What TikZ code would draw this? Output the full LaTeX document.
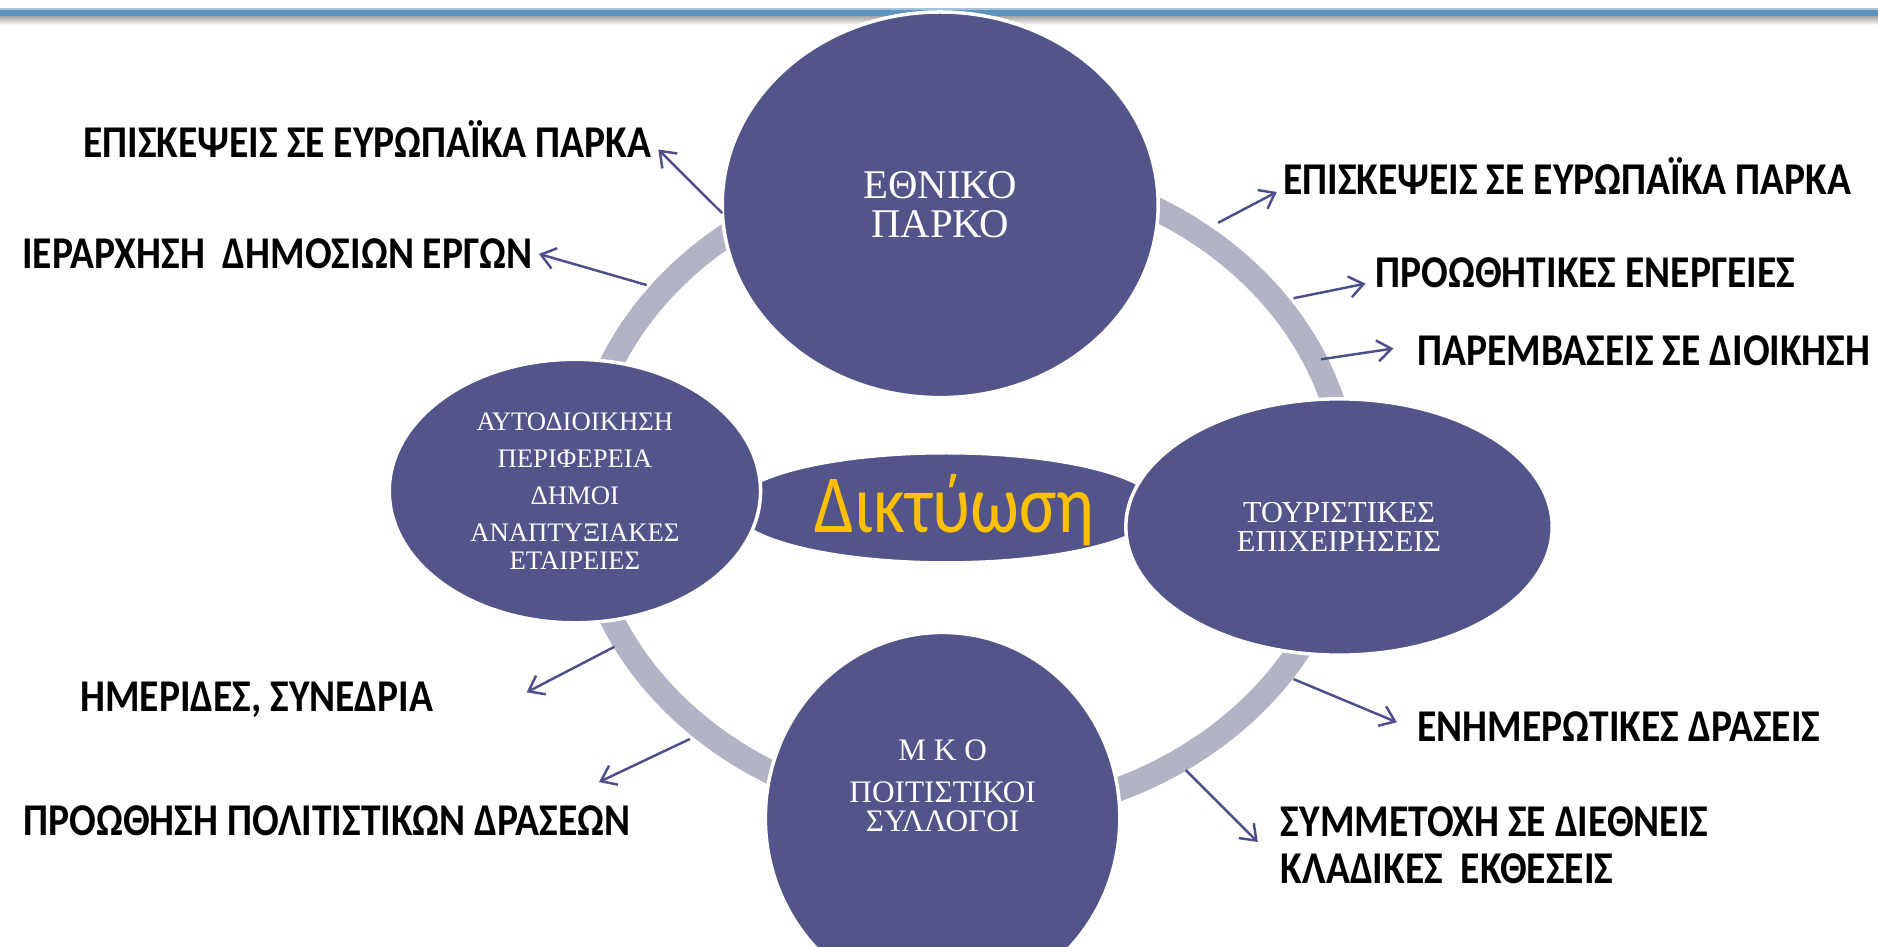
\documentclass[tikz,border=0pt]{standalone}
\usepackage{fontspec}
\usepackage{graphicx}
\setmainfont{Liberation Serif}
\newfontfamily\lblfont{Carlito}
\usetikzlibrary{shapes.geometric, arrows.meta}

\definecolor{hubfill}{RGB}{83,84,137}
\definecolor{ringgray}{RGB}{179,179,198}
\definecolor{arrowblue}{RGB}{78,78,140}
\definecolor{netgold}{RGB}{255,192,0}
\definecolor{barblue}{RGB}{91,147,188}

\newcommand{\pxu}{0.023954cm}
\newcommand{\tall}[1]{\scalebox{1}[1.15]{#1}}

\tikzset{
  hub/.style={ellipse, fill=hubfill, draw=white, line width=2pt, inner sep=0pt, text=white, align=center},
  lbl/.style={font=\lblfont\bfseries\fontsize{22.5}{26.5}\selectfont, inner sep=1.5pt},
  capline/.style={text height=16.7pt, text depth=0pt},
  pointer/.style={draw=arrowblue, line width=1.4pt, -{Straight Barb[length=8pt, width=12pt]}},
}

\begin{document}
\begin{tikzpicture}[x=\pxu, y=-\pxu]
\useasboundingbox (0,0) rectangle (1568,790);

% top bar
\fill[barblue!55] (0,6.5) rectangle (1568,8);
\fill[barblue] (0,8) rectangle (1568,13.5);
\shade[top color=black!35, bottom color=white] (0,13.5) rectangle (1568,21);

% ring
\draw[ringgray, line width=13.6pt] (805,410) ellipse [x radius=320, y radius=272];

% hubs
\node[hub, minimum width=356*\pxu, minimum height=92*\pxu] (net) at (790,424) {};
\node[hub, minimum width=364*\pxu, minimum height=322*\pxu,
      font=\fontsize{23.2}{22.6}\selectfont] (park) at (785,171) {ΕΘΝΙΚΟ\\ΠΑΡΚΟ};
\node[hub, minimum width=310*\pxu, minimum height=220*\pxu,
      font=\fontsize{15.2}{15.6}\selectfont] (local) at (480,410)
      {ΑΥΤΟΔΙΟΙΚΗΣΗ\\[5.5pt]ΠΕΡΙΦΕΡΕΙΑ\\[5.5pt]ΔΗΜΟΙ\\[5.5pt]ΑΝΑΠΤΥΞΙΑΚΕΣ\\ΕΤΑΙΡΕΙΕΣ};
\node[hub, minimum width=356*\pxu, minimum height=214*\pxu,
      font=\fontsize{17.3}{17}\selectfont] (tour) at (1118,440) {ΤΟΥΡΙΣΤΙΚΕΣ\\ΕΠΙΧΕΙΡΗΣΕΙΣ};
\node[hub, minimum width=296*\pxu, minimum height=310*\pxu] (mko) at (787,683) {};
\node[text=white, align=center, inner sep=0pt,
      font=\fontsize{17.8}{16.3}\selectfont] (mkotext) at (787,656)
      {Μ Κ Ο\\[7.5pt]ΠΟΙΤΙΣΤΙΚΟΙ\\ΣΥΛΛΟΓΟΙ};
\node[text=netgold, anchor=base, inner sep=0pt,
      font=\lblfont\fontsize{47}{47}\selectfont] (nettext) at (797,445) {\scalebox{0.85}[1]{Δικτύωση}};

% labels
\node[lbl, capline, anchor=east] (visitL) at (546,119) {\tall{ΕΠΙΣΚΕΨΕΙΣ ΣΕ ΕΥΡΩΠΑΪΚΑ ΠΑΡΚΑ}};
\node[lbl, capline, anchor=east] (worksL) at (447,212) {\tall{ΙΕΡΑΡΧΗΣΗ\ \ ΔΗΜΟΣΙΩΝ ΕΡΓΩΝ}};
\node[lbl, capline, anchor=west] (visitR) at (1069,150) {\tall{ΕΠΙΣΚΕΨΕΙΣ ΣΕ ΕΥΡΩΠΑΪΚΑ ΠΑΡΚΑ}};
\node[lbl, capline, anchor=west] (promo) at (1146,228) {\tall{ΠΡΟΩΘΗΤΙΚΕΣ ΕΝΕΡΓΕΙΕΣ}};
\node[lbl, capline, anchor=west] (interv) at (1181,293) {\tall{ΠΑΡΕΜΒΑΣΕΙΣ ΣΕ ΔΙΟΙΚΗΣΗ}};
\node[lbl, capline, anchor=west] (inform) at (1181,607) {\tall{ΕΝΗΜΕΡΩΤΙΚΕΣ ΔΡΑΣΕΙΣ}};
\node[lbl, anchor=west, align=left] (expo) at (1067,705.5)
      {\tall{ΣΥΜΜΕΤΟΧΗ ΣΕ ΔΙΕΘΝΕΙΣ}\\\tall{ΚΛΑΔΙΚΕΣ\ \ ΕΚΘΕΣΕΙΣ}};
\node[lbl, capline, anchor=east] (confs) at (364,582) {\tall{ΗΜΕΡΙΔΕΣ, ΣΥΝΕΔΡΙΑ}};
\node[lbl, capline, anchor=east] (cult) at (529,685) {\tall{ΠΡΟΩΘΗΣΗ ΠΟΛΙΤΙΣΤΙΚΩΝ ΔΡΑΣΕΩΝ}};

% arrow starts on the ring
\coordinate (s1) at (603,178);
\coordinate (s2) at (540,238);
\coordinate (s3) at (1017,186);
\coordinate (s4) at (1080,249);
\coordinate (s5) at (1103,300);
\coordinate (s6) at (1080,567);
\coordinate (s7) at (990,643);
\coordinate (s8) at (513,540);
\coordinate (s9) at (576,617);

\draw[pointer] (s1) -- ([xshift=2.5pt,yshift=-4pt]visitL.east);
\draw[pointer] (s2) -- ([xshift=2pt]worksL.east);
\draw[pointer] (s3) -- ([xshift=-2pt,yshift=-7pt]visitR.west);
\draw[pointer] (s4) -- ([xshift=-4pt,yshift=-6pt]promo.west);
\draw[pointer] (s5) -- ([xshift=-12pt,yshift=1.4pt]interv.west);
\draw[pointer] (s6) -- ([xshift=-10pt,yshift=2.7pt]inform.west);
\draw[pointer] (s7) -- ([xshift=-11.5pt,yshift=1.7pt]expo.west);
\draw[pointer] (s8) -- ([xshift=51.6pt,yshift=2.7pt]confs.east);
\draw[pointer] (s9) -- ([xshift=-19.7pt,yshift=11.8pt]cult.north east);
\end{tikzpicture}
\end{document}
